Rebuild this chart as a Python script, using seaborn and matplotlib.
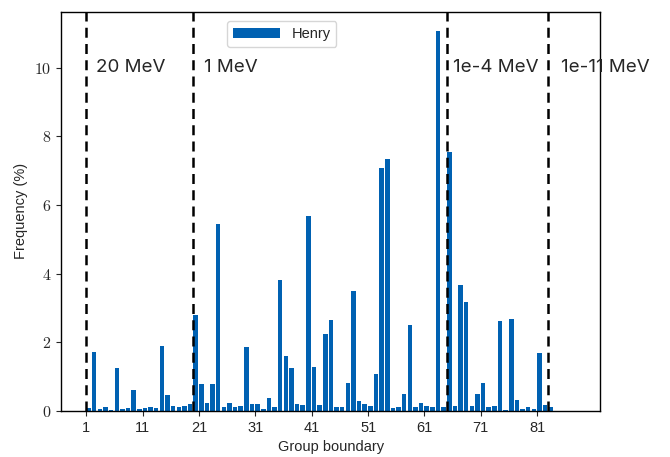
import matplotlib
matplotlib.use("Agg")
import matplotlib.pyplot as plt
import seaborn as sns
import pandas as pd
import numpy as np
from matplotlib.ticker import FuncFormatter

# Frequency (%) per energy group
groups = list(range(1, 84))
frequency = [
    0.08, 1.71, 0.05, 0.10, 0.03, 1.24, 0.05, 0.08, 0.60, 0.05,
    0.08, 0.11, 0.08, 1.90, 0.46, 0.15, 0.11, 0.13, 0.20, 2.78,
    0.79, 0.23, 0.79, 5.45, 0.10, 0.23, 0.11, 0.15, 1.87, 0.20,
    0.20, 0.06, 0.38, 0.10, 3.82, 1.60, 1.25, 0.20, 0.18, 5.68,
    1.28, 0.18, 2.24, 2.65, 0.10, 0.11, 0.81, 3.50, 0.28, 0.20,
    0.15, 1.07, 7.09, 7.34, 0.07, 0.10, 0.50, 2.50, 0.11, 0.22,
    0.15, 0.11, 11.08, 0.11, 7.56, 0.15, 3.67, 3.16, 0.15, 0.50,
    0.81, 0.10, 0.15, 2.63, 0.02, 2.67, 0.31, 0.05, 0.10, 0.06,
    1.68, 0.18, 0.10,
]

# Energy boundaries marked with dashed lines
boundary_groups = [1, 20, 65, 83]
boundary_labels = ["20 MeV", "1 MeV", "1e-4 MeV", "1e-11 MeV"]
label_x = [2.7, 21.9, 66.0, 85.3]
xtick_values = [1, 11, 21, 31, 41, 51, 61, 71, 81]

sns.set_style("ticks")
plt.rcParams["font.family"] = ["Liberation Sans", "DejaVu Sans"]
plt.rcParams["mathtext.fontset"] = "cm"

df = pd.DataFrame({"group": groups, "frequency": frequency})
# bars are edge-aligned on the group boundary
df["center"] = df["group"] + 0.4

fig, ax = plt.subplots(figsize=(6.7, 4.57), dpi=100)
fig.subplots_adjust(left=0.091, right=0.896, top=0.974, bottom=0.101)

sns.barplot(
    data=df, x="center", y="frequency", native_scale=True, width=0.8,
    color="#0061b2", saturation=1, linewidth=0, errorbar=None,
    label="Henry", ax=ax,
)

for xb in boundary_groups:
    ax.axvline(xb, color="black", linestyle=(0, (4, 2.5)), linewidth=1.8, zorder=3)

for xt, txt in zip(label_x, boundary_labels):
    ax.text(xt, 10, txt, fontsize=13.5, va="center", ha="left",
            family=["Inter", "DejaVu Sans"])

ax.set_xlim(-3.5, 92.2)
ax.set_ylim(0, 11.63)
ax.set_xticks(xtick_values)
ax.set_xticklabels([str(v) for v in xtick_values], fontsize=10.5)
ax.set_yticks([0, 2, 4, 6, 8, 10])
ax.yaxis.set_major_formatter(FuncFormatter(lambda v, p: f"${v:g}$"))
ax.tick_params(axis="y", labelsize=11.5)
ax.set_xlabel("Group boundary", fontsize=10.5)
ax.set_ylabel("Frequency (%)", fontsize=10.5)

for s in ax.spines.values():
    s.set_visible(True)
    s.set_linewidth(1.0)
    s.set_color("black")

ax.legend(loc="upper left", bbox_to_anchor=(0.295, 0.995), fontsize=10.5,
          frameon=True, handlelength=3.2)

fig.savefig("out.png", dpi=100)
